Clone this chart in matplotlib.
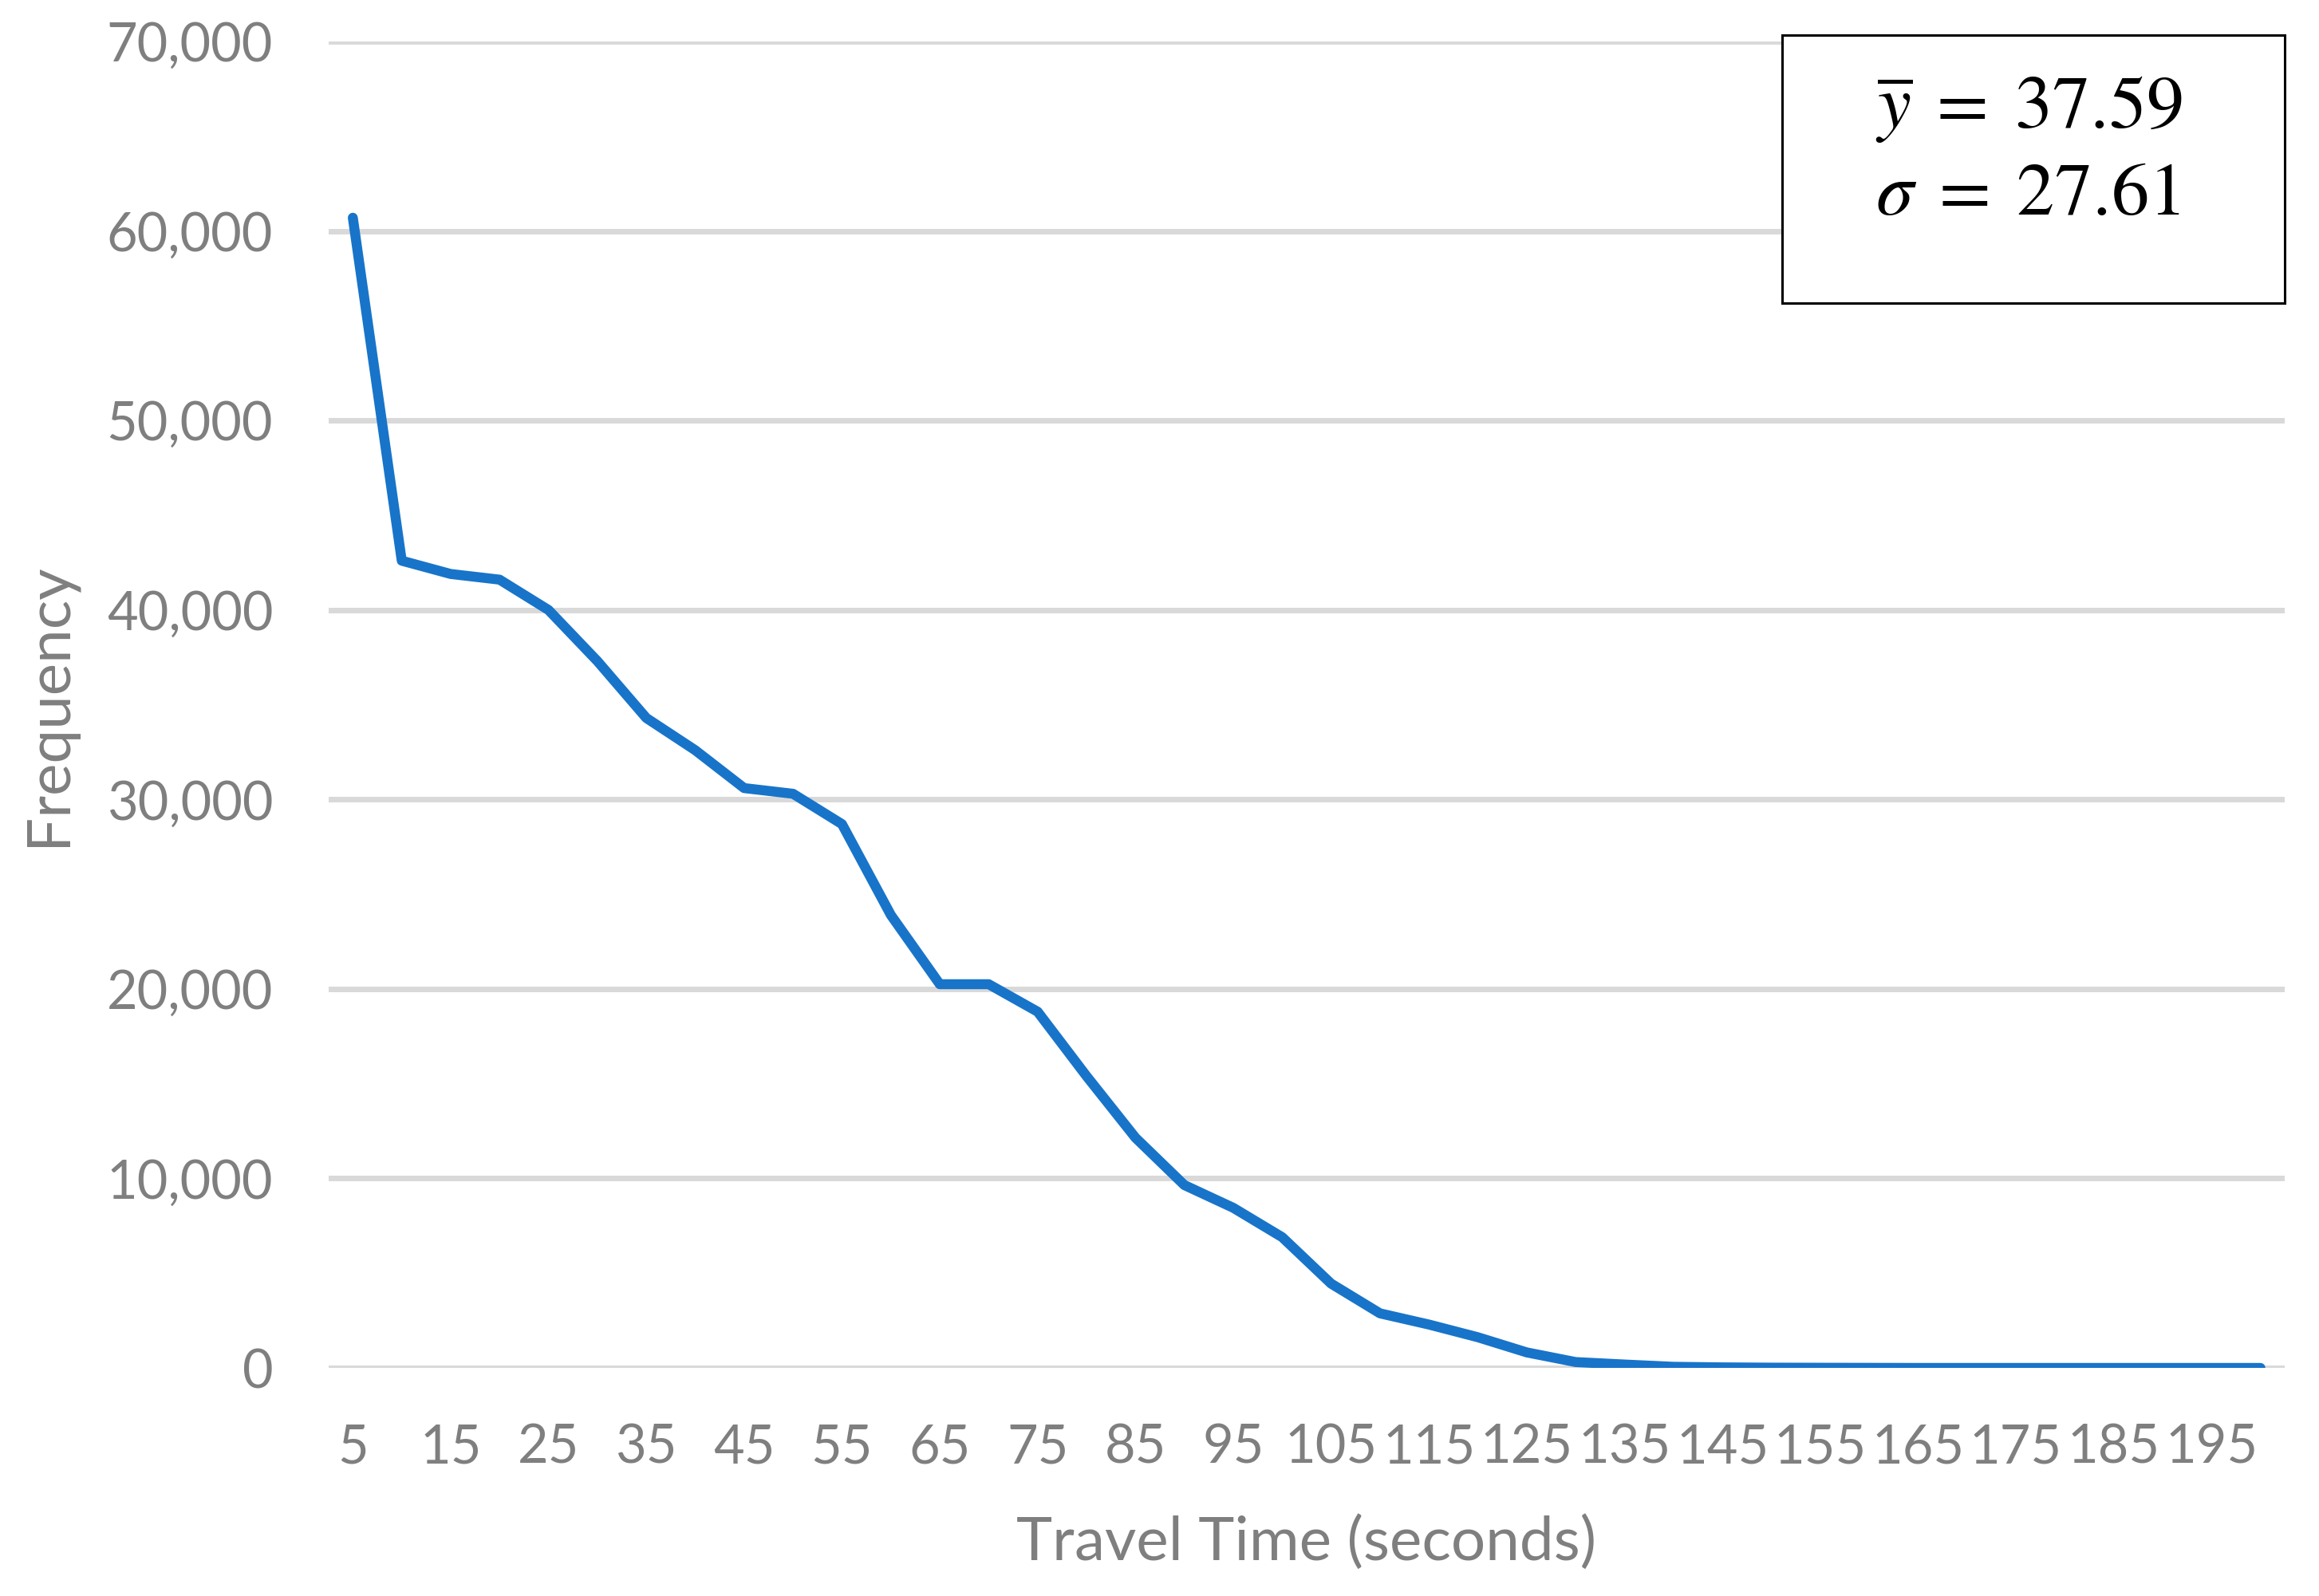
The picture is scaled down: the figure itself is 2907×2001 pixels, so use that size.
import matplotlib.pyplot as plt
from matplotlib.patches import Rectangle
from matplotlib.ticker import FuncFormatter

# travel time bins (seconds) and frequency
travel_time = list(range(5, 205, 5))
frequency = [60700, 42600, 41900, 41600, 40000, 37300, 34300, 32600, 30600, 30300,
             28700, 23900, 20250, 20250, 18800, 15400, 12150, 9650, 8450, 6900,
             4450, 2880, 2290, 1620, 820, 310, 180, 60, 30, 15,
             10, 5, 0, 0, 0, 0, 0, 0, 0, 0]
tick_labels = [str(t) for t in travel_time[::2]]

mean_text = r'$\overline{y}\;=\;37.59$'
std_text = r'$\sigma\;=\;27.61$'

plt.rcParams['font.family'] = ['Lato', 'DejaVu Sans']
plt.rcParams['mathtext.fontset'] = 'stix'

fig = plt.figure(figsize=(29.07, 20.01), dpi=100)
ax = fig.add_axes([0.1416, 0.1429, 0.8437, 0.8311])

idx = list(range(len(travel_time)))
ax.plot(idx, frequency, color='#1874C9', linewidth=9, solid_joinstyle='round',
        solid_capstyle='round', zorder=3)

ax.set_xlim(-0.5, len(travel_time) - 0.5)
ax.set_ylim(0, 70000)
ax.set_yticks(range(0, 70001, 10000))
ax.yaxis.set_major_formatter(FuncFormatter(lambda v, p: f'{int(v):,}'))
ax.set_xticks(idx[::2])
ax.set_xticklabels(tick_labels)

ax.grid(axis='y', color='#d9d9d9', linewidth=5, zorder=0)
ax.set_axisbelow(True)
for s in ax.spines.values():
    s.set_visible(False)
ax.tick_params(axis='both', length=0, labelsize=48, labelcolor='#7f7f7f')
ax.tick_params(axis='y', pad=50)
ax.tick_params(axis='x', pad=50)

ax.set_xlabel('Travel Time (seconds)', fontsize=55, color='#7f7f7f', labelpad=38)
ax.set_ylabel('Frequency', fontsize=55, color='#7f7f7f', labelpad=28)

# stats box
fig.patches.append(Rectangle((2234 / 2907, 1 - 380 / 2001), 630 / 2907, 336 / 2001,
                             transform=fig.transFigure, facecolor='white',
                             edgecolor='black', linewidth=2.2, zorder=5))
fig.text(2351 / 2907, 1 - 138 / 2001, mean_text, fontsize=68, va='center', ha='left', zorder=6)
fig.text(2351 / 2907, 1 - 243 / 2001, std_text, fontsize=68, va='center', ha='left', zorder=6)

fig.savefig('out.png', dpi=100)
